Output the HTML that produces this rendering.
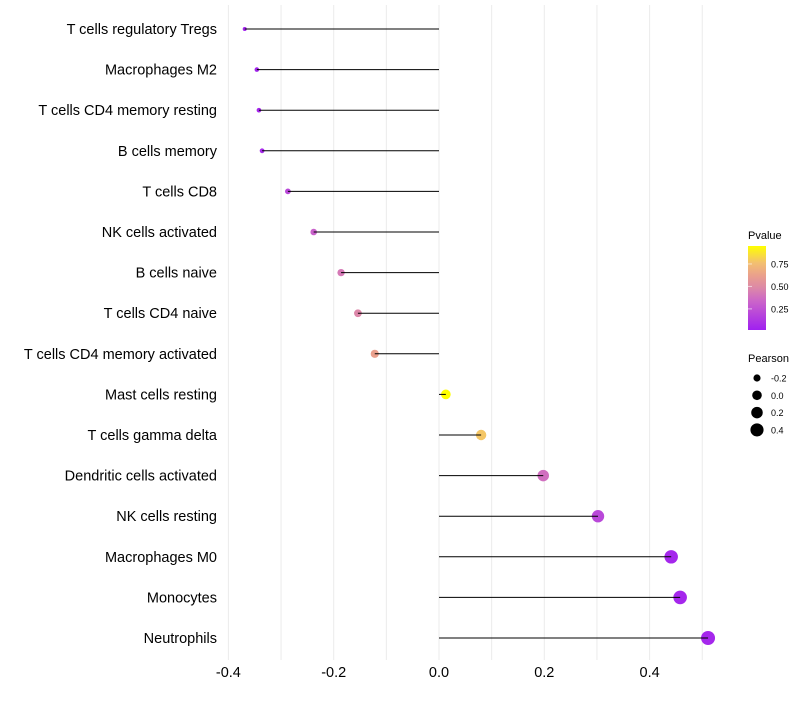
<!DOCTYPE html>
<html><head><meta charset="utf-8"><style>
body{margin:0;background:#fff;font-family:"Liberation Sans",sans-serif;}
svg text{font-family:"Liberation Sans",sans-serif;}
</style></head><body>
<svg id="chart" width="800" height="700" xmlns="http://www.w3.org/2000/svg">
<g id="grid"></g>
<g id="dots"></g>
<g id="marks"></g>
<g id="ylabels"></g>
<g id="xlabels"></g>
<g id="legend">
<defs><linearGradient id="pg" x1="0" y1="1" x2="0" y2="0">
<stop offset="0" stop-color="#a020f0"/><stop offset="0.35" stop-color="#cc66c8"/><stop offset="0.5" stop-color="#dc88a8"/><stop offset="0.65" stop-color="#eaa08c"/><stop offset="0.8" stop-color="#f3c070"/><stop offset="1" stop-color="#ffff00"/></linearGradient></defs>
<text x="748" y="239" font-size="11">Pvalue</text>
<rect x="748" y="246" width="18" height="84" fill="url(#pg)"/>
<text x="748" y="362" font-size="11">Pearson</text>
</g>
</svg>
<script>
const categories=["T cells regulatory  Tregs","Macrophages M2","T cells CD4 memory resting","B cells memory","T cells CD8","NK cells activated","B cells naive","T cells CD4 naive","T cells CD4 memory activated","Mast cells resting","T cells gamma delta","Dendritic cells activated","NK cells resting","Macrophages M0","Monocytes","Neutrophils"];
const pearson=[-0.369,-0.346,-0.342,-0.336,-0.287,-0.238,-0.186,-0.154,-0.122,0.013,0.080,0.198,0.302,0.441,0.458,0.511];
const pvalues=[0.03,0.04,0.05,0.06,0.2,0.32,0.42,0.48,0.62,0.98,0.78,0.38,0.2,0.05,0.05,0.05];
const xTicks=[-0.4,-0.2,0.0,0.2,0.4];
const xTickLabels=["-0.4","-0.2","0.0","0.2","0.4"];
const colorTicks=[0.25,0.50,0.75];
const sizeTicks=[-0.2,0.0,0.2,0.4];

const NS="http://www.w3.org/2000/svg";
const stops=[[0,"#a020f0"],[0.35,"#cc66c8"],[0.5,"#dc88a8"],[0.65,"#eaa08c"],[0.8,"#f3c070"],[1,"#ffff00"]];
function X(v){return 439+v*526.5;}
function Y(i){return 29+i*40.6;}
function P(p){return 330-(p-0.015)/(0.95-0.015)*84;}
function R(v){return Math.sqrt(Math.max(1,22.9+51*v));}
function mix(a,b,t){const pa=[1,3,5].map(k=>parseInt(a.substr(k,2),16)),pb=[1,3,5].map(k=>parseInt(b.substr(k,2),16));return "rgb("+pa.map((c,i)=>Math.round(c+(pb[i]-c)*t)).join(",")+")";}
function col(p){let t=Math.min(1,Math.max(0,(p-0.015)/(0.95-0.015)));
for(let k=1;k<stops.length;k++){if(t<=stops[k][0]){return mix(stops[k-1][1],stops[k][1],(t-stops[k-1][0])/(stops[k][0]-stops[k-1][0]));}}
return stops[stops.length-1][1];}
function el(tag,attrs,parent){const e=document.createElementNS(NS,tag);for(const k in attrs)e.setAttribute(k,attrs[k]);document.getElementById(parent).appendChild(e);return e;}

for(let v=-0.4;v<=0.51;v+=0.1){const g=el("line",{x1:X(v),x2:X(v),y1:5,y2:660,stroke:"#ebebeb","stroke-width":1},"grid");

}
categories.forEach((c,i)=>{
const l=el("line",{x1:X(0),x2:X(pearson[i]),y1:Y(i),y2:Y(i),stroke:"#000","stroke-width":1},"marks");


const d=el("circle",{cx:X(pearson[i]),cy:Y(i),r:R(pearson[i]),fill:col(pvalues[i])},"dots");


const t=el("text",{x:217,y:Y(i)+5,"text-anchor":"end","font-size":14.5,fill:"#000"},"ylabels");
t.textContent=c;


});
xTicks.forEach((v,i)=>{const t=el("text",{x:X(v),y:677,"text-anchor":"middle","font-size":14.5,fill:"#000"},"xlabels");
t.textContent=xTickLabels[i];

});
colorTicks.forEach(p=>{const t=el("text",{x:771,y:P(p)+3.5,"font-size":9},"legend");
t.textContent=p.toFixed(2);


const l=el("line",{x1:748,x2:752,y1:P(p),y2:P(p),stroke:"#fff","stroke-opacity":0.6},"legend");

});
sizeTicks.forEach((v,i)=>{const y=378+i*17.3;
const c=el("circle",{cx:757,cy:y,r:R(v),fill:"#000"},"legend");


const t=el("text",{x:771,y:y+3.5,"font-size":9},"legend");
t.textContent=v.toFixed(1);

});
</script>
</body></html>
